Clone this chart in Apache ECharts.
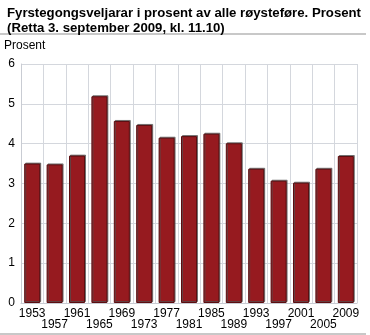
<!DOCTYPE html>
<html>
<head>
<meta charset="utf-8">
<script src="https://cdn.jsdelivr.net/npm/echarts@6/dist/echarts.min.js"></script>
<style>
  html, body { margin: 0; padding: 0; background: #fff; }
  #chart { width: 370px; height: 335px; }
</style>
</head>
<body>
<div id="chart"></div>
<script>
// Election years
const years = ['1953', '1957', '1961', '1965', '1969', '1973', '1977', '1981',
               '1985', '1989', '1993', '1997', '2001', '2005', '2009'];
// First-time voters as a share of all eligible voters (per cent)
const firstTimeShare = [3.5, 3.48, 3.7, 5.19, 4.57, 4.47, 4.15, 4.19,
                        4.25, 4.01, 3.37, 3.07, 3.02, 3.37, 3.69];
// Value axis ticks
const yTicks = [0, 1, 2, 3, 4, 5, 6];

const font = 'Liberation Sans, Arial, sans-serif';
const chart = echarts.init(document.getElementById('chart'), null, { renderer: 'canvas' });

chart.setOption({
  animation: false,
  title: {
    text: 'Fyrstegongsveljarar i prosent av alle røysteføre. Prosent\n(Retta 3. september 2009, kl. 11.10)',
    left: 2,
    top: 1,
    textStyle: { fontFamily: font, fontSize: 13.2, fontWeight: 'bold', color: '#000', lineHeight: 15 }
  },
  graphic: [
    { type: 'line', shape: { x1: 0, y1: 34, x2: 366, y2: 34 }, style: { stroke: '#c8c8c8', lineWidth: 2 } },
    { type: 'line', shape: { x1: 0, y1: 334, x2: 366, y2: 334 }, style: { stroke: '#c8c8c8', lineWidth: 2 } },
    { type: 'text', left: 4, top: 40, style: { text: 'Prosent', font: '12px ' + font, fill: '#000' } }
  ],
  grid: { left: 21, right: 13, top: 64, bottom: 32, containLabel: false },
  xAxis: {
    type: 'category',
    data: years,
    boundaryGap: true,
    axisLine: { show: true, lineStyle: { color: '#c9ccd3', width: 1 } },
    axisTick: { show: false },
    splitLine: { show: true, lineStyle: { color: '#d4d7dd', width: 1 } },
    axisLabel: {
      interval: 0,
      margin: 5,
      fontFamily: font,
      fontSize: 12,
      color: '#000',
      lineHeight: 11,
      formatter: (v, i) => (i % 2 === 1 ? '\n' + v : v)
    }
  },
  yAxis: {
    type: 'value',
    min: yTicks[0],
    max: yTicks[yTicks.length - 1],
    interval: 1,
    axisLine: { show: true, lineStyle: { color: '#c9ccd3' } },
    axisTick: { show: false },
    splitLine: { show: true, lineStyle: { color: '#d4d7dd', width: 1 } },
    axisLabel: { fontFamily: font, fontSize: 12, color: '#000', margin: 6 }
  },
  series: [{
    type: 'bar',
    data: firstTimeShare,
    barWidth: 16,
    itemStyle: {
      color: '#961a1f',
      borderColor: '#5c0d10',
      borderWidth: 1,
      shadowColor: 'rgba(80,80,80,0.7)',
      shadowOffsetX: 1,
      shadowOffsetY: -1,
      shadowBlur: 0
    }
  }]
});
</script>
</body>
</html>
